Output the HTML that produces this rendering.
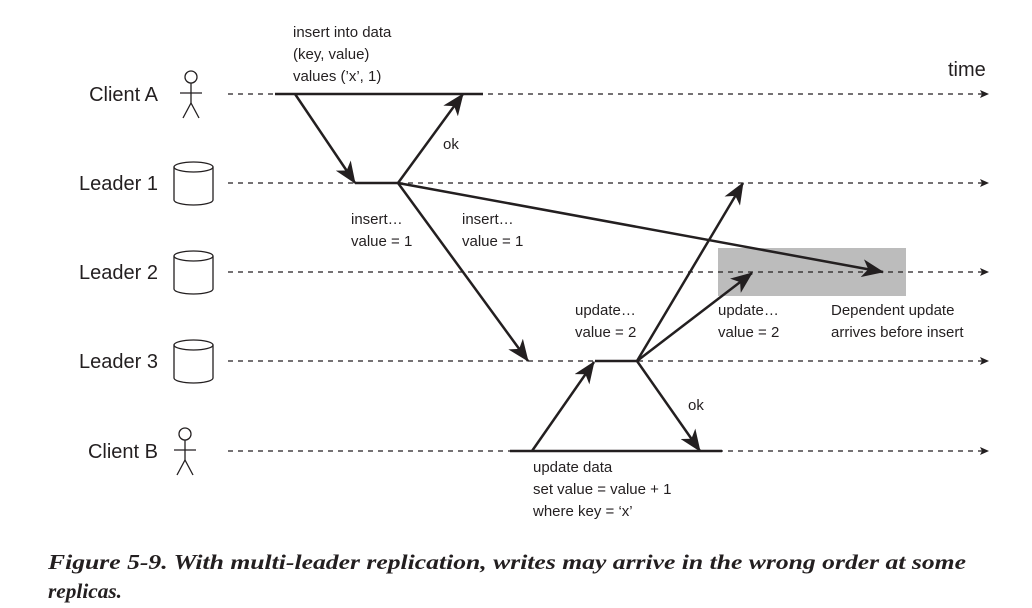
<!DOCTYPE html>
<html><head><meta charset="utf-8"><style>
html,body{margin:0;padding:0;background:#fff;}
svg{display:block;}
text{font-family:"Liberation Sans",sans-serif;fill:#231f20;}
</style></head><body>
<svg width="1032" height="608" viewBox="0 0 1032 608" xmlns="http://www.w3.org/2000/svg">
<defs>
<marker id="ah" markerWidth="24" markerHeight="18" refX="21" refY="9" orient="auto" markerUnits="userSpaceOnUse">
<path d="M0,0 L22,9 L0,18 L6,9 z" fill="#231f20"/>
</marker>
<marker id="sh" markerWidth="10" markerHeight="10" refX="8" refY="5" orient="auto" markerUnits="userSpaceOnUse">
<path d="M0,1 L9,5 L0,9 L2,5 z" fill="#231f20"/>
</marker>
</defs>
<rect x="718" y="248" width="188" height="48" fill="#bcbcbc"/>
<g stroke="#231f20" stroke-width="1.2" stroke-dasharray="5,5" fill="none">
<line x1="228" y1="94" x2="988" y2="94" marker-end="url(#sh)"/>
<line x1="228" y1="183" x2="988" y2="183" marker-end="url(#sh)"/>
<line x1="228" y1="272" x2="988" y2="272" marker-end="url(#sh)"/>
<line x1="228" y1="361" x2="988" y2="361" marker-end="url(#sh)"/>
<line x1="228" y1="451" x2="988" y2="451" marker-end="url(#sh)"/>
</g>
<g stroke="#231f20" stroke-width="2.5" fill="none">
<line x1="275" y1="94" x2="483" y2="94"/>
<line x1="355" y1="183" x2="398" y2="183"/>
<line x1="595" y1="361" x2="637" y2="361"/>
<line x1="510" y1="451" x2="722" y2="451"/>
<line x1="295" y1="94" x2="355" y2="183" marker-end="url(#ah)"/>
<line x1="398" y1="183" x2="463" y2="94" marker-end="url(#ah)"/>
<line x1="398" y1="183" x2="883" y2="272" marker-end="url(#ah)"/>
<line x1="398" y1="183" x2="528" y2="361" marker-end="url(#ah)"/>
<line x1="532" y1="451" x2="594" y2="362" marker-end="url(#ah)"/>
<line x1="637" y1="361" x2="743" y2="183" marker-end="url(#ah)"/>
<line x1="637" y1="361" x2="752" y2="273" marker-end="url(#ah)"/>
<line x1="637" y1="361" x2="700" y2="451" marker-end="url(#ah)"/>
</g>
<g stroke="#231f20" stroke-width="1.3" fill="none">
<circle cx="191" cy="77" r="6"/><line x1="191" y1="83" x2="191" y2="103"/><line x1="180" y1="93" x2="202" y2="93"/><line x1="191" y1="103" x2="183" y2="118"/><line x1="191" y1="103" x2="199" y2="118"/>
<circle cx="185" cy="434" r="6"/><line x1="185" y1="440" x2="185" y2="460"/><line x1="174" y1="450" x2="196" y2="450"/><line x1="185" y1="460" x2="177" y2="475"/><line x1="185" y1="460" x2="193" y2="475"/>
</g>
<g stroke="#231f20" stroke-width="1.3" fill="#fff">
<path d="M174,167 L174,200 A19.5,5 0 0 0 213,200 L213,167"/><ellipse cx="193.5" cy="167" rx="19.5" ry="5"/>
<path d="M174,256 L174,289 A19.5,5 0 0 0 213,289 L213,256"/><ellipse cx="193.5" cy="256" rx="19.5" ry="5"/>
<path d="M174,345 L174,378 A19.5,5 0 0 0 213,378 L213,345"/><ellipse cx="193.5" cy="345" rx="19.5" ry="5"/>
</g>
<g font-size="20">
<text x="158" y="101" text-anchor="end">Client A</text>
<text x="158" y="190" text-anchor="end">Leader 1</text>
<text x="158" y="279" text-anchor="end">Leader 2</text>
<text x="158" y="368" text-anchor="end">Leader 3</text>
<text x="158" y="458" text-anchor="end">Client B</text>
<text x="948" y="76">time</text>
</g>
<g font-size="15">
<text x="293" y="37">insert into data</text>
<text x="293" y="59">(key, value)</text>
<text x="293" y="81">values (’x’, 1)</text>
<text x="443" y="149">ok</text>
<text x="351" y="224">insert…</text>
<text x="351" y="246">value = 1</text>
<text x="462" y="224">insert…</text>
<text x="462" y="246">value = 1</text>
<text x="575" y="315">update…</text>
<text x="575" y="337">value = 2</text>
<text x="718" y="315">update…</text>
<text x="718" y="337">value = 2</text>
<text x="831" y="315">Dependent update</text>
<text x="831" y="337">arrives before insert</text>
<text x="688" y="410">ok</text>
<text x="533" y="472">update data</text>
<text x="533" y="494">set value = value + 1</text>
<text x="533" y="516">where key = ‘x’</text>
</g>
<g font-weight="bold" font-style="italic" font-size="21">
<text x="48" y="569" style="font-family:'Liberation Serif',serif" textLength="918" lengthAdjust="spacingAndGlyphs">Figure 5-9. With multi-leader replication, writes may arrive in the wrong order at some</text>
<text x="48" y="598" style="font-family:'Liberation Serif',serif" textLength="74" lengthAdjust="spacingAndGlyphs">replicas.</text>
</g>
</svg>
</body></html>
